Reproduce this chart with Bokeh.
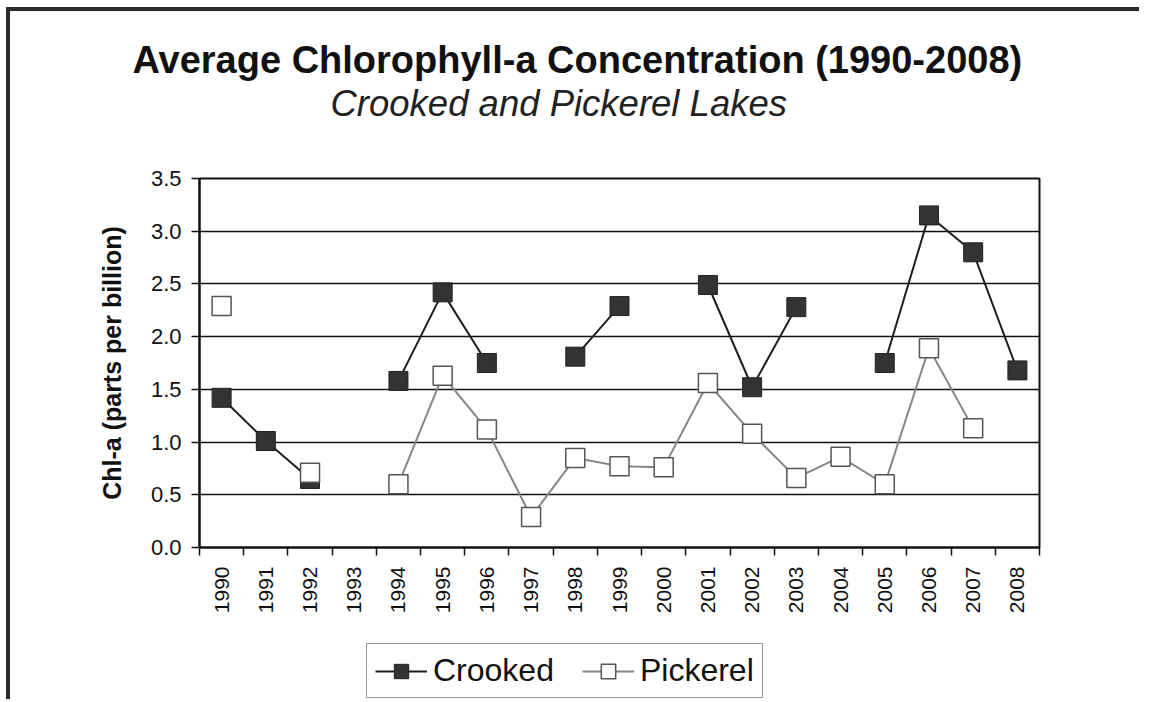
import math
from bokeh.plotting import figure
from bokeh.layouts import column
from bokeh.models import (FixedTicker, Legend, LegendItem, Title, Range1d,
                          NumeralTickFormatter, ColumnDataSource)
from bokeh.embed import file_html
from bokeh.resources import INLINE

nan = float("nan")

years = ["1990", "1991", "1992", "1993", "1994", "1995", "1996", "1997", "1998", "1999",
         "2000", "2001", "2002", "2003", "2004", "2005", "2006", "2007", "2008"]
crooked = [1.42, 1.01, 0.65, nan, 1.58, 2.42, 1.75, nan, 1.81, 2.29,
           nan, 2.49, 1.52, 2.28, nan, 1.75, 3.15, 2.80, 1.68]
pickerel = [2.29, nan, 0.71, nan, 0.60, 1.63, 1.12, 0.29, 0.85, 0.77,
            0.76, 1.56, 1.08, 0.66, 0.86, 0.60, 1.89, 1.13, nan]
y_ticks = [0.0, 0.5, 1.0, 1.5, 2.0, 2.5, 3.0, 3.5]
series_names = ["Crooked", "Pickerel"]

title_text = "Average Chlorophyll-a Concentration (1990-2008)"
subtitle_text = "Crooked and Pickerel Lakes"
y_label = "Chl-a (parts per billion)"

FONT = "Liberation Sans"
INK = "#111111"
C_LINE, C_FILL, C_EDGE = "#1e1e1e", "#333333", "#222222"
P_LINE, P_FILL, P_EDGE = "#858585", "white", "#555555"

n = len(years)
xs = [i + 0.5 for i in range(n)]

src = ColumnDataSource(dict(x=xs, crooked=crooked, pickerel=pickerel, year=years))

p = figure(title=None, frame_width=840, frame_height=369,
           min_border_left=189, min_border_right=100,
           min_border_top=167, min_border_bottom=80,
           x_range=Range1d(0, n), y_range=Range1d(y_ticks[0], y_ticks[-1]),
           output_backend="svg", toolbar_location=None,
           background_fill_color="white", border_fill_color="white")

p.outline_line_color = INK
p.outline_line_width = 2

# grid
p.xgrid.visible = False
p.ygrid.ticker = FixedTicker(ticks=y_ticks)
p.ygrid.grid_line_color = INK
p.ygrid.grid_line_width = 1.5

# x axis: labels at category centres, tick marks at category boundaries
xa = p.xaxis[0]
xa.ticker = FixedTicker(ticks=xs, minor_ticks=list(range(n + 1)))
xa.major_label_overrides = {x: y for x, y in zip(xs, years)}
xa.major_tick_out = 0
xa.major_tick_in = 0
xa.major_tick_line_color = None
xa.minor_tick_out = 8
xa.minor_tick_in = 0
xa.minor_tick_line_color = INK
xa.minor_tick_line_width = 1.5
xa.axis_line_color = INK
xa.axis_line_width = 2
xa.major_label_orientation = math.pi / 2
xa.major_label_standoff = 11
xa.major_label_text_font = FONT
xa.major_label_text_font_size = "21px"
xa.major_label_text_color = INK

ya = p.yaxis[0]
ya.ticker = FixedTicker(ticks=y_ticks)
ya.formatter = NumeralTickFormatter(format="0.0")
ya.major_tick_out = 8
ya.major_tick_in = 0
ya.major_tick_line_color = INK
ya.major_tick_line_width = 1.5
ya.minor_tick_line_color = None
ya.axis_line_color = INK
ya.axis_line_width = 2
ya.major_label_standoff = 10
ya.major_label_text_font = FONT
ya.major_label_text_font_size = "22px"
ya.major_label_text_color = INK
ya.axis_label = y_label
ya.axis_label_text_font = FONT
ya.axis_label_text_font_style = "bold"
ya.axis_label_text_font_size = "25px"
ya.axis_label_text_color = INK
ya.axis_label_standoff = 22

# series
p.line("x", "crooked", source=src, line_color=C_LINE, line_width=2)
p.scatter("x", "crooked", source=src, marker="square", size=19,
          fill_color=C_FILL, line_color=C_EDGE, line_width=1)
p.line("x", "pickerel", source=src, line_color=P_LINE, line_width=2)
p.scatter("x", "pickerel", source=src, marker="square", size=19,
          fill_color=P_FILL, line_color=P_EDGE, line_width=1.5)

# spacer between plot frame and subtitle, then subtitle, then title
p.add_layout(Title(text=" ", text_font_size="10px", standoff=42), "above")
p.add_layout(Title(text=subtitle_text, align="left", offset=131, standoff=0,
                   text_font=FONT, text_font_style="italic", text_font_size="36.5px",
                   text_color="#222222"), "above")
p.add_layout(Title(text=title_text, align="left", offset=-67, standoff=0,
                   text_font=FONT, text_font_style="bold", text_font_size="38px",
                   text_color=INK), "above")

# legend strip below the chart; its proxy renderers share the data source but the
# strip's ranges lie away from the data, so only the legend itself shows
lf = figure(width=1129, height=72, min_border=0,
            x_range=Range1d(-100, -99), y_range=Range1d(-100, -99),
            x_axis_type=None, y_axis_type=None,
            output_backend="svg", toolbar_location=None,
            background_fill_color="white", border_fill_color="white")
lf.outline_line_color = None
lf.xgrid.visible = False
lf.ygrid.visible = False

lc = lf.line("x", "crooked", source=src, line_color=C_LINE, line_width=2)
sc = lf.scatter("x", "crooked", source=src, marker="square",
                fill_color=C_FILL, line_color=C_EDGE, line_width=1)
lp = lf.line("x", "pickerel", source=src, line_color=P_LINE, line_width=2)
sp = lf.scatter("x", "pickerel", source=src, marker="square",
                fill_color=P_FILL, line_color=P_EDGE, line_width=1.5)

legend = Legend(items=[LegendItem(label=series_names[0], renderers=[lc, sc]),
                       LegendItem(label=series_names[1], renderers=[lp, sp])],
                orientation="horizontal", location=(167, 1),
                glyph_width=52, glyph_height=36, label_standoff=6, spacing=28,
                padding=8, margin=0, label_height=31,
                label_text_font=FONT, label_text_font_size="32px",
                label_text_color=INK,
                border_line_color="#333333", border_line_width=1.5,
                background_fill_color="white", background_fill_alpha=1)
lf.add_layout(legend)

layout = column(p, lf, spacing=0)
layout.styles = {"border-top": "4px solid #2b2b2b", "border-left": "4px solid #2b2b2b",
                 "margin-left": "6px", "margin-top": "7px"}

open("out.html", "w").write(file_html(layout, INLINE))
